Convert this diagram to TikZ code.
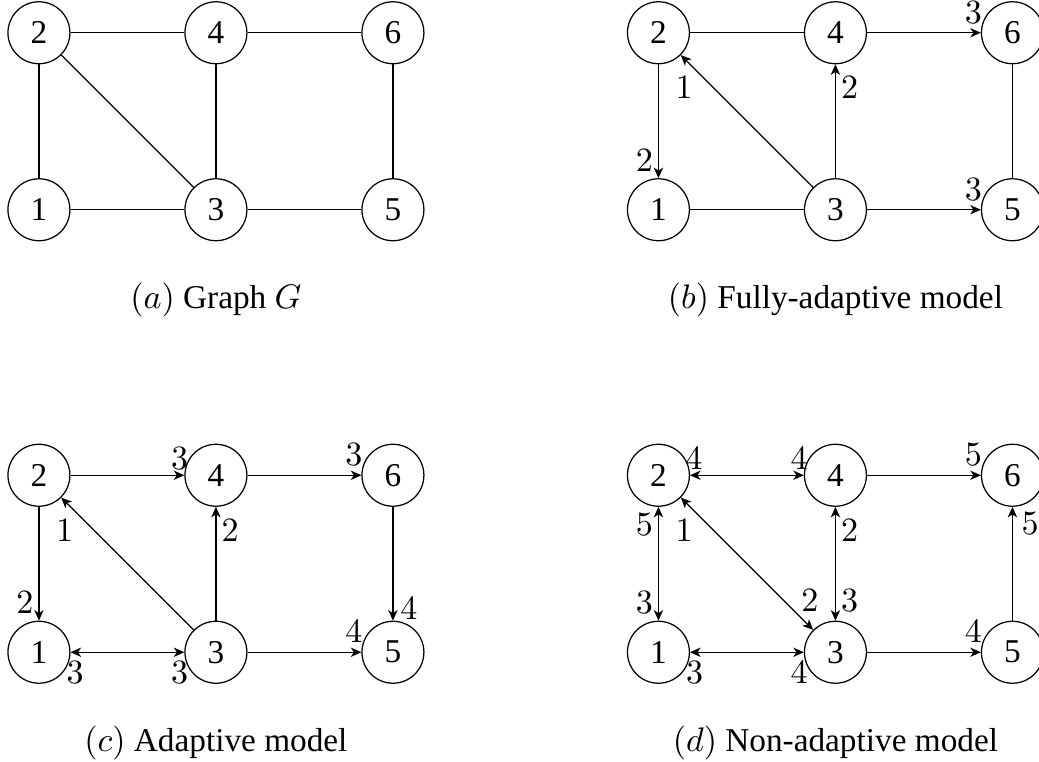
\documentclass[tikz,border=0pt]{standalone}
\usepackage[no-math]{fontspec}
\setmainfont{Liberation Serif}
\usetikzlibrary{arrows.meta,calc}

\tikzset{
  vtx/.style={draw, circle, minimum size=0.7cm, inner sep=0pt},
  stl/.tip={Stealth[length=3.4pt,width=3pt,inset=1pt]},
  arr/.style={-stl},
  darr/.style={stl-stl},
  lbl/.style={inner sep=0pt},
  captxt/.style={inner sep=0pt}
}

\begin{document}
\begin{tikzpicture}[font=\fontsize{10.7}{13}\selectfont]
  \useasboundingbox (-0.44,-6.23) rectangle (11.30,2.37);
  % Vertices — same layout in all four graphs
  \foreach \g/\dx/\dy in {a/0/0, b/7/0, c/0/-5, d/7/-5} {
    \begin{scope}[shift={(\dx,\dy)}]
      \node[vtx] (\g1) at (0,0) {1};
      \node[vtx] (\g2) at (0,2) {2};
      \node[vtx] (\g3) at (2,0) {3};
      \node[vtx] (\g4) at (2,2) {4};
      \node[vtx] (\g5) at (4,0) {5};
      \node[vtx] (\g6) at (4,2) {6};
    \end{scope}
  }
  % Captions
  \node[captxt] (capa) at (2,-1.02)  {$(a)$ Graph $G$};
  \node[captxt] (capb) at (9,-1.02)  {$(b)$ Fully-adaptive model};
  \node[captxt] (capc) at (2,-6.02)  {$(c)$ Adaptive model};
  \node[captxt] (capd) at (9,-6.02)  {$(d)$ Non-adaptive model};

  % (a) Graph G
  \draw (a2) -- (a4);
  \draw (a4) -- (a6);
  \draw (a2) -- (a1);
  \draw (a2) -- (a3);
  \draw (a4) -- (a3);
  \draw (a1) -- (a3);
  \draw (a3) -- (a5);
  \draw (a6) -- (a5);

  % (b) Fully-adaptive
  \draw (b2) -- (b4);
  \draw[arr] (b4) -- (b6) node[lbl] at ($(b6)+(-0.44,0.23)$) {$3$};
  \draw[arr] (b2) -- (b1) node[lbl] at ($(b1)+(-0.16,0.56)$) {$2$};
  \draw[arr] (b3) -- (b2) node[lbl] at ($(b2)+(0.29,-0.62)$) {$1$};
  \draw[arr] (b3) -- (b4) node[lbl] at ($(b4)+(0.16,-0.62)$) {$2$};
  \draw (b1) -- (b3);
  \draw[arr] (b3) -- (b5) node[lbl] at ($(b5)+(-0.44,0.23)$) {$3$};
  \draw (b6) -- (b5);

  % (c) Adaptive
  \draw[arr] (c2) -- (c4) node[lbl] at ($(c4)+(-0.41,0.19)$) {$3$};
  \draw[arr] (c4) -- (c6) node[lbl] at ($(c6)+(-0.44,0.23)$) {$3$};
  \draw[arr] (c2) -- (c1) node[lbl] at ($(c1)+(-0.16,0.56)$) {$2$};
  \draw[arr] (c3) -- (c2) node[lbl] at ($(c2)+(0.29,-0.62)$) {$1$};
  \draw[arr] (c3) -- (c4) node[lbl] at ($(c4)+(0.16,-0.62)$) {$2$};
  \draw[darr] (c1) -- (c3) node[lbl] at ($(c1)+(0.41,-0.23)$) {$3$}
                           node[lbl] at ($(c3)+(-0.41,-0.23)$) {$3$};
  \draw[arr] (c3) -- (c5) node[lbl] at ($(c5)+(-0.44,0.23)$) {$4$};
  \draw[arr] (c6) -- (c5) node[lbl] at ($(c5)+(0.18,0.49)$) {$4$};

  % (d) Non-adaptive
  \draw[darr] (d2) -- (d4) node[lbl] at ($(d2)+(0.40,0.19)$) {$4$}
                           node[lbl] at ($(d4)+(-0.41,0.19)$) {$4$};
  \draw[arr] (d4) -- (d6) node[lbl] at ($(d6)+(-0.44,0.23)$) {$5$};
  \draw[darr] (d2) -- (d1) node[lbl] at ($(d2)+(-0.16,-0.56)$) {$5$}
                           node[lbl] at ($(d1)+(-0.16,0.56)$) {$3$};
  \draw[darr] (d2) -- (d3) node[lbl] at ($(d2)+(0.29,-0.62)$) {$1$}
                           node[lbl] at ($(d3)+(-0.29,0.59)$) {$2$};
  \draw[darr] (d4) -- (d3) node[lbl] at ($(d4)+(0.16,-0.62)$) {$2$}
                           node[lbl] at ($(d3)+(0.16,0.59)$) {$3$};
  \draw[darr] (d1) -- (d3) node[lbl] at ($(d1)+(0.41,-0.23)$) {$3$}
                           node[lbl] at ($(d3)+(-0.41,-0.23)$) {$4$};
  \draw[arr] (d3) -- (d5) node[lbl] at ($(d5)+(-0.44,0.23)$) {$4$};
  \draw[arr] (d5) -- (d6) node[lbl] at ($(d6)+(0.20,-0.54)$) {$5$};
\end{tikzpicture}
\end{document}
